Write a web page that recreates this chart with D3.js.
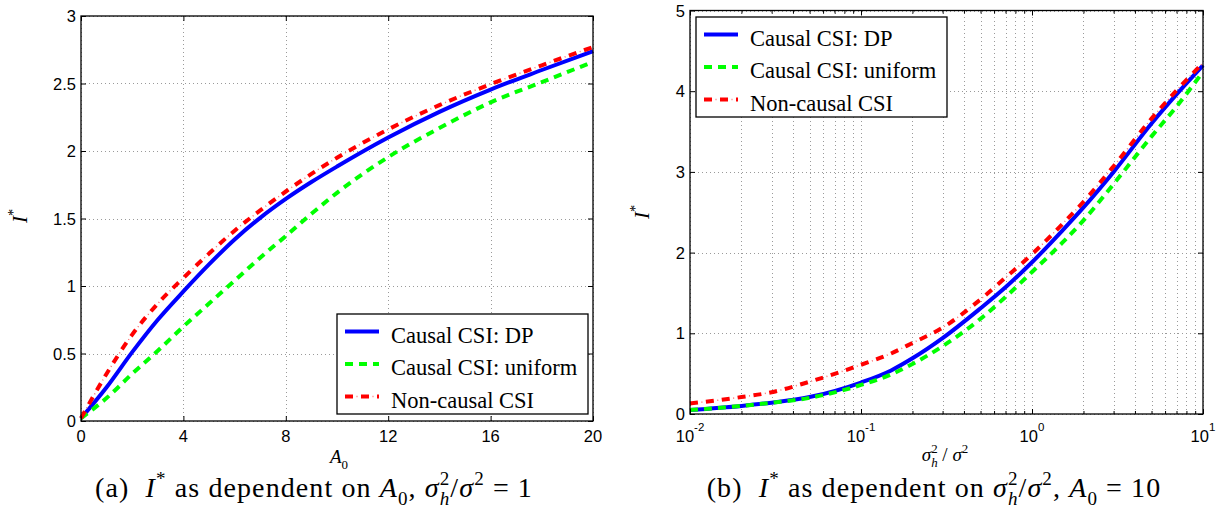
<!DOCTYPE html>
<html>
<head>
<meta charset="utf-8">
<script src="https://cdn.jsdelivr.net/npm/d3@7"></script>
<style>
  body { margin: 0; background: #fff; }
  svg { display: block; }
  text { white-space: pre; }
</style>
</head>
<body>
<script>
// ---- data: panel (a), I* vs A0 ----
const a0Values = [0, 1, 2, 3, 4, 5, 6, 7, 8, 9, 10, 12, 14, 16, 18, 20];
const dpVsA0 = [0.02, 0.25, 0.51, 0.75, 0.96, 1.16, 1.345, 1.505, 1.645, 1.77, 1.885, 2.10, 2.29, 2.455, 2.60, 2.74];
const uniformVsA0 = [0.02, 0.17, 0.35, 0.52, 0.70, 0.87, 1.04, 1.21, 1.37, 1.535, 1.69, 1.955, 2.17, 2.36, 2.51, 2.66];
const noncausalVsA0 = [0.02, 0.35, 0.64, 0.87, 1.06, 1.24, 1.41, 1.56, 1.70, 1.83, 1.95, 2.16, 2.34, 2.495, 2.635, 2.77];

// ---- data: panel (b), I* vs sigma_h^2/sigma^2 ----
const ratioValues = [0.01, 0.02, 0.03, 0.05, 0.1, 0.15, 0.2, 0.3, 0.5, 0.7, 1, 1.5, 2, 3, 5, 7, 10];
const dpVsRatio = [0.05, 0.10, 0.14, 0.21, 0.39, 0.54, 0.69, 0.94, 1.31, 1.57, 1.88, 2.27, 2.56, 3.00, 3.60, 3.96, 4.32];
const uniformVsRatio = [0.05, 0.10, 0.14, 0.20, 0.36, 0.49, 0.62, 0.84, 1.18, 1.45, 1.76, 2.12, 2.40, 2.85, 3.44, 3.81, 4.24];
const noncausalVsRatio = [0.13, 0.21, 0.27, 0.40, 0.61, 0.75, 0.88, 1.07, 1.42, 1.69, 1.98, 2.35, 2.63, 3.07, 3.66, 4.01, 4.35];

// ---- ticks and labels ----
const a0Ticks = [0, 4, 8, 12, 16, 20];
const iTicksA = [0, 0.5, 1, 1.5, 2, 2.5, 3];
const ratioTicks = [0.01, 0.1, 1, 10];
const ratioExponents = ['-2', '-1', '0', '1'];
const iTicksB = [0, 1, 2, 3, 4, 5];
const seriesNames = ['Causal CSI: DP', 'Causal CSI: uniform', 'Non-causal CSI'];

const SANS = '"Liberation Sans", Arial, sans-serif';
const SERIF = '"Liberation Serif", "Times New Roman", serif';

const svg = d3.select('body').append('svg')
  .attr('width', 1224)
  .attr('height', 511);

// write a text made of styled pieces (italic, sup, sub, stacked sub)
function richText(parent, x, y, size, parts, anchor = 'middle', spacing = 0) {
  const t = parent.append('text')
    .attr('x', x).attr('y', y)
    .attr('font-family', SERIF)
    .attr('font-size', size)
    .attr('letter-spacing', spacing)
    .attr('text-anchor', anchor)
    .attr('fill', '#000');
  let cur = 0, prevLen = 0;
  parts.forEach(p => {
    const target = p.s === 'sup' ? -0.42 * size : p.s === 'sub' ? 0.3 * size : 0;
    const ts = t.append('tspan').attr('dy', target - cur).text(p.t);
    if (p.i) ts.attr('font-style', 'italic');
    if (p.s) ts.attr('font-size', size * 0.68);
    if (p.stack) ts.attr('dx', -prevLen);
    cur = target;
    prevLen = ts.node().getComputedTextLength();
  });
  return t;
}

const styles = [
  { color: '#0000ff', dash: null },
  { color: '#00ff00', dash: '8,6' },
  { color: '#ff0000', dash: '8,8', dot: true }
];

function drawSeries(g, pts, st, curve) {
  const line = d3.line().x(d => d[0]).y(d => d[1]).curve(curve);
  g.append('path')
    .attr('d', line(pts))
    .attr('fill', 'none')
    .attr('stroke', st.color)
    .attr('stroke-width', 4)
    .attr('stroke-dasharray', st.dash);
  if (st.dot) {
    g.append('path')
      .attr('d', line(pts))
      .attr('fill', 'none')
      .attr('stroke', '#ff7070')
      .attr('stroke-width', 1.5)
      .attr('stroke-dasharray', '1,15')
      .attr('stroke-dashoffset', -11.5);
  }
}

function drawPanel(cfg) {
  const { x, y, xTicks, xMinor, yTicks } = cfg;
  const [x0, x1] = x.range();
  const [y0, y1] = y.range();
  const g = svg.append('g');

  // grid
  const grid = g.append('g')
    .attr('stroke', '#9a9a9a')
    .attr('stroke-width', 1)
    .attr('stroke-dasharray', '1,3');
  grid.selectAll('.gx').data(xTicks.concat(xMinor || []))
    .join('line')
    .attr('x1', d => Math.round(x(d)) + 0.5).attr('x2', d => Math.round(x(d)) + 0.5)
    .attr('y1', y0).attr('y2', y1);
  grid.selectAll('.gy').data(yTicks)
    .join('line')
    .attr('y1', d => Math.round(y(d)) + 0.5).attr('y2', d => Math.round(y(d)) + 0.5)
    .attr('x1', x0).attr('x2', x1);

  // series
  const lines = g.append('g');
  cfg.series.forEach((s, i) => {
    const pts = cfg.xs.map((v, k) => [x(v), y(s[k])]);
    drawSeries(lines, pts, styles[i], d3.curveMonotoneX);
  });

  // inward ticks on all four sides
  const tickAxis = (axis, tr, vals, len) => {
    const a = g.append('g').attr('transform', tr)
      .call(axis.tickValues(vals).tickSizeInner(-len).tickSizeOuter(0).tickFormat(''));
    a.select('.domain').remove();
    a.selectAll('line').attr('stroke', '#000');
  };
  tickAxis(d3.axisBottom(x), `translate(0,${y0})`, xTicks, 5);
  tickAxis(d3.axisTop(x), `translate(0,${y1})`, xTicks, 5);
  tickAxis(d3.axisLeft(y), `translate(${x0},0)`, yTicks, 5);
  tickAxis(d3.axisRight(y), `translate(${x1},0)`, yTicks, 5);
  if (xMinor) {
    tickAxis(d3.axisBottom(x), `translate(0,${y0})`, xMinor, 3);
    tickAxis(d3.axisTop(x), `translate(0,${y1})`, xMinor, 3);
  }

  // box
  g.append('rect')
    .attr('x', x0).attr('y', y1)
    .attr('width', x1 - x0).attr('height', y0 - y1)
    .attr('fill', 'none')
    .attr('stroke', '#000')
    .attr('stroke-width', 1.3);

  // y tick labels
  g.selectAll('.ylab').data(yTicks)
    .join('text')
    .attr('x', x0 - 5)
    .attr('y', d => y(d) + 6)
    .attr('text-anchor', 'end')
    .attr('font-family', SANS)
    .attr('font-size', 16.5)
    .text(d => d3.format('')(d));

  // legend
  const L = cfg.legend;
  const lg = g.append('g');
  lg.append('rect')
    .attr('x', L.x).attr('y', L.y)
    .attr('width', L.w).attr('height', L.h)
    .attr('fill', '#fff')
    .attr('stroke', '#000')
    .attr('stroke-width', 1.3);
  seriesNames.forEach((name, i) => {
    const ry = L.y + 17.5 + i * 32.5;
    drawSeries(lg, [[L.x + 8, ry], [L.x + 42, ry]], styles[i], d3.curveLinear);
    lg.append('text')
      .attr('x', L.x + 54)
      .attr('y', ry + 11)
      .attr('font-family', SERIF)
      .attr('font-size', 22.5)
      .text(name);
  });
  return g;
}

// ---- panel (a) ----
const xA = d3.scaleLinear().domain([0, 20]).range([81, 593]);
const yA = d3.scaleLinear().domain([0, 3]).range([421, 16]);
const gA = drawPanel({
  x: xA, y: yA, xTicks: a0Ticks, yTicks: iTicksA,
  xs: a0Values, series: [dpVsA0, uniformVsA0, noncausalVsA0],
  legend: { x: 337, y: 314, w: 251, h: 100 }
});
gA.selectAll('.xlab').data(a0Ticks)
  .join('text')
  .attr('x', d => xA(d))
  .attr('y', 442)
  .attr('text-anchor', 'middle')
  .attr('font-family', SANS)
  .attr('font-size', 16.5)
  .text(d => d);

// ---- panel (b) ----
const xB = d3.scaleLog().domain([0.01, 10]).range([690, 1203]);
const yB = d3.scaleLinear().domain([0, 5]).range([414, 10.5]);
const minorB = xB.ticks().filter(v => !ratioTicks.some(t => Math.abs(t - v) < 1e-9));
const gB = drawPanel({
  x: xB, y: yB, xTicks: ratioTicks, xMinor: minorB, yTicks: iTicksB,
  xs: ratioValues, series: [dpVsRatio, uniformVsRatio, noncausalVsRatio],
  legend: { x: 696, y: 17, w: 251, h: 100 }
});
ratioTicks.forEach((v, i) => {
  const t = gB.append('text')
    .attr('x', xB(v))
    .attr('y', 442)
    .attr('text-anchor', 'middle')
    .attr('font-family', SANS)
    .attr('font-size', 16.5);
  t.append('tspan').text('10');
  t.append('tspan').attr('dy', -11).attr('font-size', 11.5).text(ratioExponents[i]);
});

// ---- axis labels ----
const yl1 = richText(svg, 0, 0, 21, [{ t: 'I', i: true }, { t: '*', s: 'sup' }]);
yl1.attr('transform', 'translate(27,216) rotate(-90)');
const yl2 = richText(svg, 0, 0, 21, [{ t: 'I', i: true }, { t: '*', s: 'sup' }]);
yl2.attr('transform', 'translate(649,212) rotate(-90)');

richText(svg, 339, 463, 19, [{ t: 'A', i: true }, { t: '0', s: 'sub' }]);
richText(svg, 945, 461, 19, [
  { t: 'σ', i: true }, { t: '2', s: 'sup' }, { t: 'h', i: true, s: 'sub', stack: true },
  { t: ' / ' }, { t: 'σ', i: true }, { t: '2', s: 'sup' }
]);

// ---- captions ----
richText(svg, 314, 497, 28, [
  { t: '(a)  ' }, { t: 'I', i: true }, { t: '*', s: 'sup' }, { t: ' as dependent on ' },
  { t: 'A', i: true }, { t: '0', s: 'sub' }, { t: ', ' },
  { t: 'σ', i: true }, { t: '2', s: 'sup' }, { t: 'h', i: true, s: 'sub', stack: true },
  { t: '/' }, { t: 'σ', i: true }, { t: '2', s: 'sup' }, { t: ' = 1' }
], 'middle', 1.1);
richText(svg, 934, 497, 28, [
  { t: '(b)  ' }, { t: 'I', i: true }, { t: '*', s: 'sup' }, { t: ' as dependent on ' },
  { t: 'σ', i: true }, { t: '2', s: 'sup' }, { t: 'h', i: true, s: 'sub', stack: true },
  { t: '/' }, { t: 'σ', i: true }, { t: '2', s: 'sup' }, { t: ', ' },
  { t: 'A', i: true }, { t: '0', s: 'sub' }, { t: ' = 10' }
], 'middle', 1.1);
</script>
</body>
</html>
